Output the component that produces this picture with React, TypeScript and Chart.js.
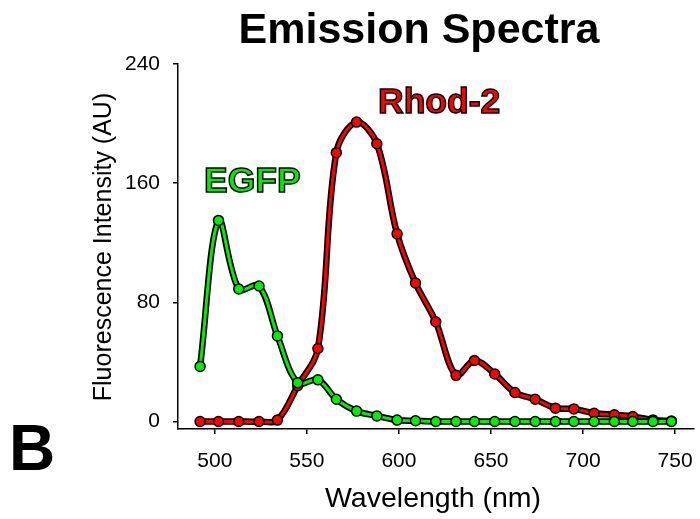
import React, { useEffect, useRef } from "react";
import { Chart, registerables } from "chart.js";

Chart.register(...registerables);

const FONT = "'Liberation Sans', Arial, Helvetica, sans-serif";
const GREEN = "#00ee00";
const RED = "#ff0000";

const wavelengths = [492, 502, 513, 524, 534, 545, 556, 566, 577, 588, 599, 609, 620, 631, 641, 652, 663, 674, 685, 695, 706, 717, 727, 738, 748];
const egfpValues = [37, 135, 89, 91, 57.5, 26, 28, 15, 7, 3.8, 1, 0.5, 0, 0, 0, 0, 0, 0, 0, 0, 0, 0, 0, 0, 0];
const rhod2Values = [0, 0, 0, 0, 1, 24, 49, 180.5, 201, 186.5, 126, 93, 67, 31, 41, 32, 19.5, 15, 9, 8.5, 5.6, 4.5, 3.4, 1.1, 0.3];
const xTicks = [500, 550, 600, 650, 700, 750];
const yTicks = [0, 80, 160, 240];

const TENSION = 0.35;

export default function App() {
  const ref = useRef<HTMLCanvasElement>(null);

  useEffect(() => {
    document.body.style.margin = "0";
    const canvas = ref.current!;
    const pts = (vals: number[]) => wavelengths.map((x, i) => ({ x, y: vals[i] }));

    const textPlugin = {
      id: "textPlugin",
      afterDraw(chart: any) {
        const ctx = chart.ctx as CanvasRenderingContext2D;
        ctx.save();
        // Title
        ctx.fillStyle = "#000";
        ctx.font = `bold 43px ${FONT}`;
        ctx.textAlign = "center";
        ctx.textBaseline = "alphabetic";
        ctx.fillText("Emission Spectra", 419, 43);
        // X title
        ctx.font = `28.5px ${FONT}`;
        ctx.fillText("Wavelength (nm)", 433, 507);
        // Y title
        ctx.save();
        ctx.translate(104, 247);
        ctx.rotate(-Math.PI / 2);
        ctx.font = `25px ${FONT}`;
        ctx.textBaseline = "middle";
        ctx.fillText("Fluorescence Intensity (AU)", 0, 0);
        ctx.restore();
        // Series labels
        ctx.textAlign = "left";
        ctx.textBaseline = "alphabetic";
        ctx.font = `bold 35.5px ${FONT}`;
        ctx.lineWidth = 1.5;
        ctx.strokeStyle = "#000";
        ctx.fillStyle = GREEN;
        ctx.fillText("EGFP", 204, 192);
        ctx.strokeText("EGFP", 204, 192);
        ctx.fillStyle = RED;
        ctx.fillText("Rhod-2", 378, 113);
        ctx.strokeText("Rhod-2", 378, 113);
        // Panel letter
        ctx.fillStyle = "#000";
        ctx.font = `bold 64px ${FONT}`;
        ctx.fillText("B", 9, 470);
        ctx.restore();
      },
    };

    const line = (vals: number[], color: string) => ({
      data: pts(vals),
      borderColor: color,
      backgroundColor: color,
      borderWidth: 3,
      pointRadius: 5,
      pointBackgroundColor: color,
      pointBorderColor: "#000",
      pointBorderWidth: 1.5,
      tension: TENSION,
      fill: false,
    });
    const outline = (vals: number[]) => ({
      data: pts(vals),
      borderColor: "#000",
      borderWidth: 6.5,
      pointRadius: 0,
      tension: TENSION,
      fill: false,
    });

    const chart = new Chart(canvas, {
      type: "line",
      data: {
        datasets: [
          { label: "EGFP", ...line(egfpValues, GREEN) },
          { label: "EGFP outline", ...outline(egfpValues) },
          { label: "Rhod-2", ...line(rhod2Values, RED) },
          { label: "Rhod-2 outline", ...outline(rhod2Values) },
        ] as any,
      },
      options: {
        responsive: false,
        animation: false,
        layout: { padding: { top: 64, right: 3, left: 0, bottom: 0 } },
        plugins: {
          legend: { display: false },
          tooltip: { enabled: false },
          title: { display: false },
        },
        scales: {
          x: {
            type: "linear",
            min: 480,
            max: 760,
            afterBuildTicks: (s: any) => {
              s.ticks = xTicks.map((v) => ({ value: v }));
            },
            afterFit: (s: any) => {
              s.height = 90;
              s.paddingLeft = 0;
              s.paddingRight = 0;
            },
            grid: { drawOnChartArea: false, tickLength: 5, color: "#000", lineWidth: 1.5 },
            border: { color: "#000", width: 1.5 },
            ticks: { font: { family: FONT, size: 21 }, color: "#000", padding: 15, maxRotation: 0, autoSkip: false },
          },
          y: {
            type: "linear",
            min: -5,
            max: 240,
            afterBuildTicks: (s: any) => {
              s.ticks = yTicks.map((v) => ({ value: v }));
            },
            afterFit: (s: any) => {
              s.width = 178;
              s.paddingTop = 0;
              s.paddingBottom = 0;
            },
            grid: { drawOnChartArea: false, tickLength: 5, color: "#000", lineWidth: 1.5 },
            border: { color: "#000", width: 1.5 },
            ticks: { font: { family: FONT, size: 21 }, color: "#000", padding: 13, autoSkip: false },
          },
        },
      } as any,
      plugins: [textPlugin],
    });
    return () => chart.destroy();
  }, []);

  return (
    <div style={{ position: "absolute", left: 0, top: 0, width: 700, height: 519 }}>
      <canvas ref={ref} width={700} height={519} />
    </div>
  );
}
